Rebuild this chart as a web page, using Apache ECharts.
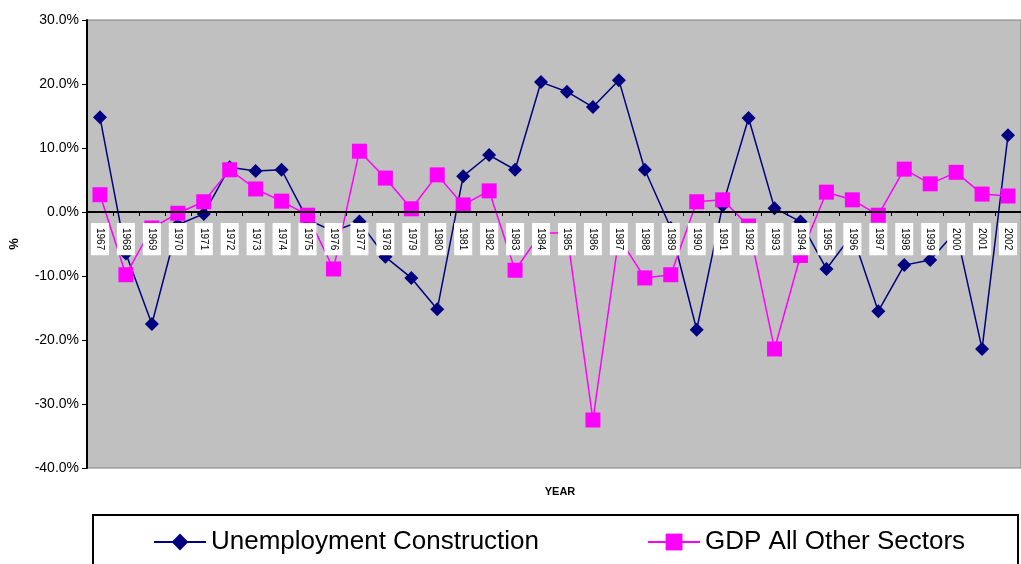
<!DOCTYPE html>
<html>
<head>
<meta charset="utf-8">
<style>
  html, body { margin: 0; padding: 0; background: #ffffff; }
  #chart { width: 1021px; height: 564px; }
</style>
<script src="https://cdn.jsdelivr.net/npm/echarts@6/dist/echarts.min.js"></script>
</head>
<body>
<div id="chart"></div>
<script>
// Annual % change, 1967-2002
const years = ['1967','1968','1969','1970','1971','1972','1973','1974','1975','1976','1977','1978',
  '1979','1980','1981','1982','1983','1984','1985','1986','1987','1988','1989','1990',
  '1991','1992','1993','1994','1995','1996','1997','1998','1999','2000','2001','2002'];

const unemploymentConstruction = [14.8, -6.5, -17.5, -2.0, -0.3, 7.0, 6.4, 6.6, -1.2, -3.0, -1.5, -7.0,
  -10.3, -15.2, 5.6, 8.9, 6.6, 20.3, 18.8, 16.4, 20.6, 6.6, -2.5, -18.4,
  1.0, 14.7, 0.6, -1.5, -8.9, -3.5, -15.5, -8.3, -7.5, -3.0, -21.4, 12.0];

const gdpAllOtherSectors = [2.7, -9.8, -2.5, -0.2, 1.6, 6.6, 3.6, 1.7, -0.5, -8.9, 9.5, 5.3,
  0.5, 5.8, 1.1, 3.3, -9.1, -3.3, -3.3, -32.5, -4.0, -10.3, -9.8, 1.6,
  1.9, -2.2, -21.4, -6.8, 3.1, 1.9, -0.5, 6.7, 4.4, 6.2, 2.8, 2.5];

const yTicks = { min: -40, max: 30, step: 10 };

// plot box in pixels
const plot = { left: 85, top: 20, bottom: 96, right: -11, height: 448 };
// the category axis sits on the 0% line
const zeroOffset = -plot.height * (0 - yTicks.min) / (yTicks.max - yTicks.min);

const chart = echarts.init(document.getElementById('chart'), null, { renderer: 'canvas' });

chart.setOption({
  backgroundColor: '#ffffff',
  animation: false,
  textStyle: { fontFamily: 'Liberation Sans, Arial, sans-serif' },
  grid: {
    left: plot.left, top: plot.top, bottom: plot.bottom, right: plot.right,
    show: true,
    backgroundColor: '#c0c0c0',
    borderColor: '#808080',
    borderWidth: 1
  },
  legend: {
    left: 148,
    top: 524,
    itemWidth: 52,
    itemHeight: 21,
    itemGap: 108,
    textStyle: { fontSize: 26, color: '#000000', fontFamily: 'Liberation Sans, Arial, sans-serif' },
    data: ['Unemployment Construction', 'GDP All Other Sectors']
  },
  graphic: [
    {
      type: 'rect', z: -1,
      shape: { x: 93, y: 515, width: 925, height: 60 },
      style: { fill: '#ffffff', stroke: '#000000', lineWidth: 2 }
    },
    {
      type: 'text', x: 560, y: 492,
      style: { text: 'YEAR', align: 'center', verticalAlign: 'middle', fontSize: 11,
        fontWeight: 'bold', fill: '#000000', fontFamily: 'Liberation Sans, Arial, sans-serif' }
    }
  ],
  xAxis: {
    type: 'category',
    data: years,
    boundaryGap: true,
    offset: zeroOffset,
    z: 10,
    axisLine: { onZero: false, lineStyle: { color: '#000000', width: 2 } },
    axisTick: { show: true, length: 4, lineStyle: { color: '#000000', width: 1 } },
    axisLabel: {
      interval: 0,
      rotate: -90,
      margin: 11,
      fontSize: 10,
      color: '#000000',
      backgroundColor: '#ffffff',
      padding: [2, 5, 2, 5],
      lineHeight: 14,
      hideOverlap: false
    },
    splitLine: { show: false }
  },
  yAxis: {
    type: 'value',
    min: yTicks.min,
    max: yTicks.max,
    interval: yTicks.step,
    name: '%',
    nameLocation: 'middle',
    nameGap: 66,
    nameRotate: 90,
    nameTextStyle: { fontSize: 13, fontWeight: 'bold', color: '#000000' },
    axisLine: { show: true, lineStyle: { color: '#000000', width: 2 } },
    axisTick: { show: true, length: 5, lineStyle: { color: '#000000' } },
    axisLabel: {
      fontSize: 14,
      color: '#000000',
      margin: 8,
      formatter: v => v.toFixed(1) + '%'
    },
    splitLine: { show: false }
  },
  series: [
    {
      name: 'Unemployment Construction',
      type: 'line',
      data: unemploymentConstruction,
      symbol: 'diamond',
      symbolSize: 14,
      showAllSymbol: true,
      itemStyle: { color: '#000080' },
      lineStyle: { color: '#000080', width: 1.5 },
      z: 3
    },
    {
      name: 'GDP All Other Sectors',
      type: 'line',
      data: gdpAllOtherSectors,
      symbol: 'rect',
      symbolSize: 15,
      showAllSymbol: true,
      itemStyle: { color: '#ff00ff' },
      lineStyle: { color: '#ff00ff', width: 1.5 },
      z: 4
    }
  ]
});
</script>
</body>
</html>
